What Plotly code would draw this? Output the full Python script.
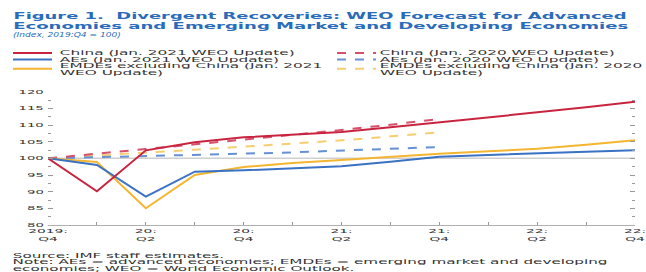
import json
import plotly.graph_objects as go

W, H = 646, 272

quarters = ["2019:Q4", "2020:Q1", "2020:Q2", "2020:Q3", "2020:Q4", "2021:Q1", "2021:Q2",
            "2021:Q3", "2021:Q4", "2022:Q1", "2022:Q2", "2022:Q3", "2022:Q4"]
tick_text = ["2019:<br>Q4", "", "20:<br>Q2", "", "20:<br>Q4", "", "21:<br>Q2", "",
             "21:<br>Q4", "", "22:<br>Q2", "", "22:<br>Q4"]

china_2021 = [100, 90.1, 102.4, 104.8, 106.3, 107.1, 107.9, 109.3, 110.8, 112.2, 113.7, 115.3, 117.0]
aes_2021 = [100, 98.0, 88.5, 96.0, 96.4, 97.0, 97.6, 99.0, 100.5, 101.0, 101.6, 102.0, 102.4]
emde_2021 = [100, 98.9, 85.0, 95.0, 97.4, 98.6, 99.5, 100.5, 101.4, 102.1, 102.9, 104.1, 105.4]

china_2020 = [100, 101.3, 102.8, 104.2, 105.6, 107.0, 108.5, 110.1, 111.8]
aes_2020 = [100, 100.3, 100.6, 101.0, 101.4, 101.8, 102.3, 102.8, 103.4]
emde_2020 = [100, 100.8, 101.7, 102.6, 103.5, 104.4, 105.4, 106.6, 107.8]

baseline = 100
y_min, y_max = 80, 120

names = ["China (Jan. 2021 WEO Update)", "China (Jan. 2020 WEO Update)",
         "AEs (Jan. 2021 WEO Update)", "AEs (Jan. 2020 WEO Update)",
         "EMDEs excluding China (Jan. 2021<br>WEO Update)",
         "EMDEs excluding China (Jan. 2020<br>WEO Update)"]

title_lines = ["Figure 1.  Divergent Recoveries: WEO Forecast for Advanced",
               "Economies and Emerging Market and Developing Economies"]
subtitle = "(Index, 2019:Q4 = 100)"
src = ["Source: IMF staff estimates.",
       "Note: AEs = advanced economies; EMDEs = emerging market and developing",
       "economies; WEO = World Economic Outlook."]

RED, RED_D = "#C9243F", "#D6506E"
BLUE, BLUE_D = "#3A72C4", "#6690D4"
YEL, YEL_D = "#F4B531", "#F6CE70"
TITLE_BLUE = "#2A6BBA"
TXT = "#333333"
FONT = "DejaVu Sans"


def px(x):
    return x / W


def py(y):
    return 1 - y / H


fig = go.Figure()

series = [
    (emde_2020, YEL_D, "dash"),
    (aes_2020, BLUE_D, "dash"),
    (china_2020, RED_D, "dash"),
    (emde_2021, YEL, None),
    (aes_2021, BLUE, None),
    (china_2021, RED, None),
]
for ys, col, dash in series:
    fig.add_trace(go.Scatter(x=quarters[:len(ys)], y=ys, mode="lines",
                             line=dict(color=col, width=2, dash=dash),
                             showlegend=False, hoverinfo="skip"))

fig.add_shape(type="line", xref="x domain", x0=0, x1=1, yref="y", y0=baseline, y1=baseline,
              line=dict(color="#CFCFCF", width=1.5), layer="below")

ann = []
stretch = {}  # plain text -> [target_width, scale]


def add_text(text, x, y, size, color=TXT, target=0, scale=1.0, bold=False, italic=False):
    shown = text
    if bold:
        shown = "<b>" + shown + "</b>"
    if italic:
        shown = "<i>" + shown + "</i>"
    ann.append(dict(text=shown, x=px(x), y=py(y), font=dict(size=size, color=color, family=FONT)))
    stretch[text] = [target, scale]


add_text(title_lines[0], 12, 15.8, 9.5, TITLE_BLUE, target=614, bold=True)
add_text(title_lines[1], 12, 25.8, 9.5, TITLE_BLUE, target=616, bold=True)
add_text(subtitle, 12, 35.5, 6.8, TITLE_BLUE, target=108, italic=True)

LEG_SCALE = 2.47
leg = [
    (names[0], RED, None, 13, 59, [53]),
    (names[2], BLUE, None, 13, 59, [59.5]),
    (names[4], YEL, None, 13, 59, [66, 72.5]),
    (names[1], RED_D, "dash", 337, 379, [53]),
    (names[3], BLUE_D, "dash", 337, 379, [59.5]),
    (names[5], YEL_D, "dash", 337, 379, [66, 72.5]),
]
for name, col, dash, lx, tx, rows in leg:
    ymid = (rows[0] + rows[-1]) / 2 - (0.5 if len(rows) > 1 else 0)
    fig.add_shape(type="line", xref="paper", yref="paper", x0=px(lx), x1=px(lx + 39),
                  y0=py(ymid), y1=py(ymid), line=dict(color=col, width=2, dash=dash))
    for part, ry in zip(name.split("<br>"), rows):
        add_text(part, tx, ry, 6.2, TXT, scale=LEG_SCALE)

for s, ry in zip(src, [255, 261.5, 268]):
    add_text(s, 12, ry, 6.2, TXT, scale=2.45)

for a in ann:
    a.update(xref="paper", yref="paper", xanchor="left", yanchor="middle",
             showarrow=False, borderpad=0)
fig.update_layout(annotations=ann)

fig.update_layout(
    width=W, height=H,
    margin=dict(l=0, r=0, t=0, b=0, autoexpand=False),
    paper_bgcolor="white", plot_bgcolor="white",
    font=dict(family=FONT, size=6, color=TXT),
    xaxis=dict(domain=[px(48), px(635)], type="category", categoryorder="array",
               categoryarray=quarters, range=[0, len(quarters) - 1], automargin=False,
               tickvals=quarters, ticktext=tick_text, ticks="inside", ticklen=3,
               tickcolor="#999", showline=True, linecolor="#B0B0B0", linewidth=1,
               showgrid=False, zeroline=False, tickfont=dict(size=6, color=TXT)),
    yaxis=dict(domain=[py(225), py(91.7)], range=[y_min, y_max], dtick=5, tick0=80,
               automargin=False,
               ticks="inside", ticklen=5, tickcolor="#999", showline=False, mirror="ticks",
               showgrid=False, zeroline=False, tickfont=dict(size=6, color=TXT),
               ticklabelstandoff=3,
               minor=dict(dtick=2.5, ticks="inside", ticklen=3, tickcolor="#999", showgrid=False)),
)

post = """
document.documentElement.style.margin = '0';
document.body.style.margin = '0';
document.body.style.padding = '0';
document.body.style.overflow = 'hidden';
var gd = document.getElementById('{plot_id}');
var S = %s;
function apply(t, s, ax){
  var tr = t.getAttribute('transform') || '';
  t.setAttribute('transform', tr + ' matrix(' + s + ',0,0,1,' + ((1 - s) * ax) + ',0)');
}
gd.querySelectorAll('text.annotation-text').forEach(function(t){
  var key = (t.textContent || '').trim();
  var v = S[key];
  if (!v) return;
  var b = t.getBBox();
  if (!b.width) return;
  var s = v[0] > 0 ? v[0] / b.width : v[1];
  apply(t, s, b.x);
});
function st(sel, s, mode){
  gd.querySelectorAll(sel).forEach(function(t){
    var b = t.getBBox();
    var ax = mode === 'end' ? b.x + b.width : (mode === 'mid' ? b.x + b.width / 2 : b.x);
    apply(t, s, ax);
  });
}
st('.xtick text', 2.3, 'mid');
st('.ytick text', 2.2, 'end');
""" % json.dumps(stretch)

fig.write_html("out.html", post_script=post, config={"displayModeBar": False, "staticPlot": True})
